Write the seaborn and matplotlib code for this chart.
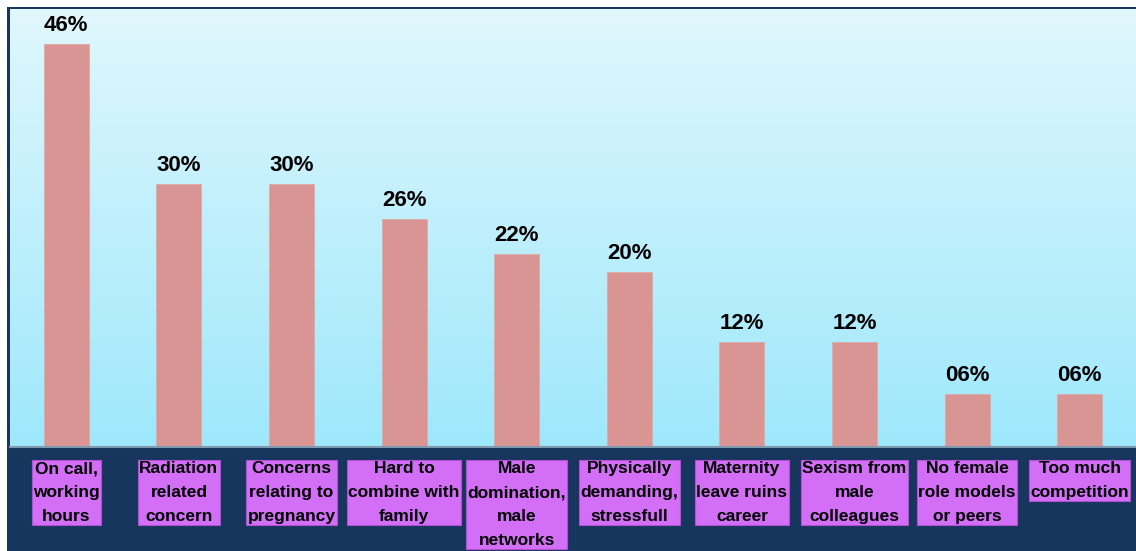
import numpy as np
import pandas as pd
import matplotlib
matplotlib.use("Agg")
import matplotlib.pyplot as plt
from matplotlib.patches import Rectangle
import seaborn as sns

# --- chart data ---
categories = [
    "On call,\nworking\nhours",
    "Radiation\nrelated\nconcern",
    "Concerns\nrelating to\npregnancy",
    "Hard to\ncombine with\nfamily",
    "Male\ndomination,\nmale\nnetworks",
    "Physically\ndemanding,\nstressfull",
    "Maternity\nleave ruins\ncareer",
    "Sexism from\nmale\ncolleagues",
    "No female\nrole models\nor peers",
    "Too much\ncompetition",
]
values = [46, 30, 30, 26, 22, 20, 12, 12, 6, 6]
value_labels = ["46%", "30%", "30%", "26%", "22%", "20%", "12%", "12%", "06%", "06%"]

df = pd.DataFrame({"cat": categories, "val": values})

W, H = 1136, 551
fig = plt.figure(figsize=(W / 100, H / 100), dpi=100)
fig.patch.set_facecolor("white")

# navy frame / bottom panel
navy = "#17365D"
fig.patches.append(Rectangle((7 / W, 0), 1, (H - 7) / H, transform=fig.transFigure,
                             facecolor=navy, edgecolor="none", zorder=-10))

ax = fig.add_axes([10 / W, (H - 447) / H, (W - 10) / W, 438 / H])
ax.set_zorder(1)

# gradient background
grad = np.linspace(0, 1, 256).reshape(-1, 1)
cmap = matplotlib.colors.LinearSegmentedColormap.from_list("bg", ["#E0F7FD", "#9EE8FB"])
ax.imshow(grad, extent=[-0.5, 9.5, 0, 50], aspect="auto", cmap=cmap, zorder=0, origin="upper")

sns.barplot(data=df, x="cat", y="val", color="#D99594", width=0.4, saturation=1,
            edgecolor="#E0A8A6", linewidth=0.6, ax=ax, zorder=2)

ax.set_xlim(-0.5, 9.5)
ax.set_ylim(0, 50)
ax.set_xticks([])
ax.set_yticks([])
ax.set_xlabel("")
ax.set_ylabel("")
for s in ["top", "left", "right"]:
    ax.spines[s].set_visible(False)
ax.spines["bottom"].set_color("#7F9AAE")
ax.spines["bottom"].set_linewidth(1.5)

for i, (v, lab) in enumerate(zip(values, value_labels)):
    ax.annotate(lab, (i, v), xytext=(0, 9.5), textcoords="offset points",
                ha="center", va="baseline", fontsize=16, fontweight="bold",
                family=["Liberation Sans", "DejaVu Sans"], color="black")

for i, cat in enumerate(categories):
    ax.text(i, -0.032, cat, transform=ax.get_xaxis_transform(), ha="center", va="top",
            fontsize=12.5, fontweight="bold", family=["Liberation Sans", "DejaVu Sans"],
            linespacing=1.75, color="black", clip_on=False,
            bbox=dict(boxstyle="square,pad=0.08", facecolor="#D36EF7", edgecolor="#B050D0",
                      linewidth=0.8))

fig.savefig("out.png", dpi=100)
